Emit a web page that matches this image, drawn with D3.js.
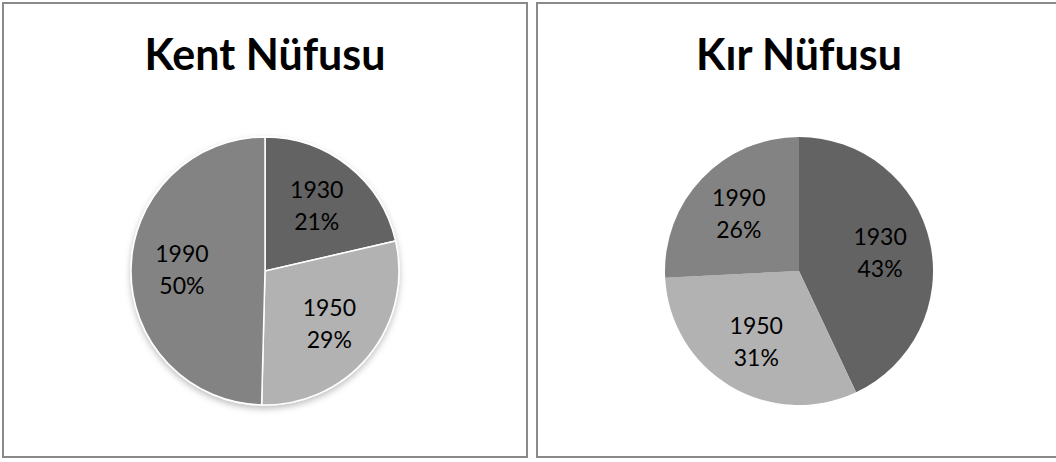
<!DOCTYPE html>
<html>
<head>
<meta charset="utf-8">
<script src="https://cdn.jsdelivr.net/npm/d3@7"></script>
<style>
  body { margin: 0; background: #fff; overflow: hidden; }
  svg { display: block; }
</style>
</head>
<body>
<script>
const years = ["1930", "1950", "1990"];
const kentValues = [21.4, 29.0, 49.6];
const kirValues = [43.0, 31.2, 25.8];
const titles = ["Kent Nüfusu", "Kır Nüfusu"];
const sliceColors = ["#636363", "#b2b2b2", "#838383"];

const width = 1056;
const height = 462;

const charts = [
    { title: titles[0], values: kentValues, outlined: true },
    { title: titles[1], values: kirValues, outlined: false }
];

const svg = d3.select("body").append("svg")
    .attr("width", width)
    .attr("height", height);

// soft shadow under the first pie
const defs = svg.append("defs");
defs.append("filter")
    .attr("id", "shadow")
    .attr("x", "-20%").attr("y", "-20%")
    .attr("width", "140%").attr("height", "140%")
  .append("feDropShadow")
    .attr("dx", 0).attr("dy", 3)
    .attr("stdDeviation", 3)
    .attr("flood-color", "#000")
    .attr("flood-opacity", 0.25);

const color = d3.scaleOrdinal().domain(years).range(sliceColors);
const fmt = d3.format(".0%");

const panelW = 524, panelH = 454, gap = 10;
const radius = 134;

const pie = d3.pie().sort(null).value(d => d);
const arc = d3.arc().innerRadius(0).outerRadius(radius);
const labelArc = d3.arc().innerRadius(radius * 0.62).outerRadius(radius * 0.62);

charts.forEach((c, i) => {
    const g = svg.append("g")
        .attr("transform", `translate(${3 + i * (panelW + gap)}, 3)`);

    // the second panel runs past the right edge of the picture
    g.append("rect")
        .attr("width", i === 0 ? panelW : panelW + 20)
        .attr("height", panelH)
        .attr("fill", "#fff")
        .attr("stroke", "#8a8a8a")
        .attr("stroke-width", 2);

    g.append("text")
        .attr("x", panelW / 2)
        .attr("y", 67)
        .attr("text-anchor", "middle")
        .attr("font-family", "Lato, 'Open Sans', sans-serif")
        .attr("font-weight", "bold")
        .attr("font-size", 43)
        .attr("fill", "#000")
        .text(c.title);

    const total = d3.sum(c.values);
    const arcs = pie(c.values);

    const pg = g.append("g")
        .attr("transform", `translate(${panelW / 2}, 268)`);

    const slices = pg.append("g")
        .attr("filter", c.outlined ? "url(#shadow)" : null);

    slices.selectAll("path")
        .data(arcs)
        .enter().append("path")
        .attr("d", arc)
        .attr("fill", (d, j) => color(years[j]))
        .attr("stroke", c.outlined ? "#fff" : "none")
        .attr("stroke-width", 1.5);

    const labels = pg.selectAll("text.lbl")
        .data(arcs)
        .enter().append("text")
        .attr("class", "lbl")
        .attr("transform", d => `translate(${labelArc.centroid(d)})`)
        .attr("text-anchor", "middle")
        .attr("font-family", "Lato, 'Open Sans', sans-serif")
        .attr("font-size", 23)
        .attr("fill", "#000");

    labels.append("tspan")
        .attr("x", 0)
        .attr("y", -8)
        .text((d, j) => years[j]);

    labels.append("tspan")
        .attr("x", 0)
        .attr("y", 24)
        .text(d => fmt(d.value / total));
});
</script>
</body>
</html>
